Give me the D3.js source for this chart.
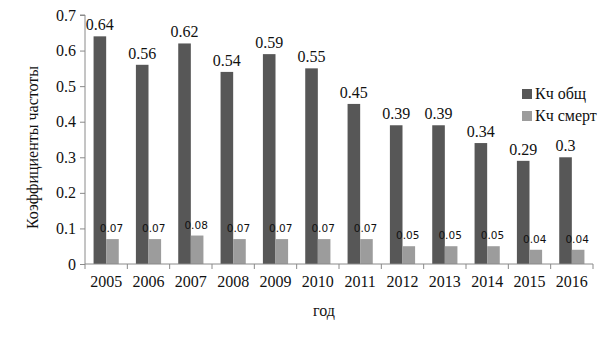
<!DOCTYPE html>
<html>
<head>
<meta charset="utf-8">
<script src="https://cdn.jsdelivr.net/npm/d3@7/dist/d3.min.js"></script>
<style>
  html, body { margin: 0; padding: 0; background: #fff; }
  svg { display: block; }
  .serif { font-family: "Liberation Serif"; }
  .sans { font-family: "DejaVu Sans"; }
</style>
</head>
<body>
<script>
const years = ["2005","2006","2007","2008","2009","2010","2011","2012","2013","2014","2015","2016"];
const kTotal = [0.64,0.56,0.62,0.54,0.59,0.55,0.45,0.39,0.39,0.34,0.29,0.3];
const kDeath = [0.07,0.07,0.08,0.07,0.07,0.07,0.07,0.05,0.05,0.05,0.04,0.04];
const seriesNames = ["Кч общ", "Кч смерт"];
const yTicks = [0,0.1,0.2,0.3,0.4,0.5,0.6,0.7];

const W = 605, H = 340;
const mLeft = 85, mRight = 593, mTop = 15, mBottom = 264;
const dark = "#575757", light = "#9c9c9c", axisCol = "#8a8a8a";

const svg = d3.select("body").append("svg").attr("width", W).attr("height", H);

const x = d3.scaleBand().domain(years).range([mLeft, mRight]).paddingInner(0).paddingOuter(0);
const sub = d3.scaleBand().domain([0,1]).range([0, x.bandwidth()]).paddingInner(0).paddingOuter(0.68);
const y = d3.scaleLinear().domain([0, 0.7]).range([mBottom, mTop]);

// bars
const g = svg.append("g");
years.forEach((yr, i) => {
  const vals = [kTotal[i], kDeath[i]];
  vals.forEach((v, j) => {
    g.append("rect")
      .attr("x", x(yr) + sub(j))
      .attr("y", y(v))
      .attr("width", sub.bandwidth())
      .attr("height", y(0) - y(v))
      .attr("fill", j === 0 ? dark : light);
  });
  // value labels
  g.append("text").attr("class", "serif")
    .attr("x", x(yr) + sub(0) + sub.bandwidth() / 2)
    .attr("y", y(kTotal[i]) - 6)
    .attr("text-anchor", "middle")
    .attr("font-size", 16).attr("fill", "#111")
    .text(String(kTotal[i]));
  g.append("text").attr("class", "sans")
    .attr("x", x(yr) + sub(1) + sub.bandwidth() / 2 - 1)
    .attr("y", y(kDeath[i]) - 7)
    .attr("text-anchor", "middle")
    .attr("font-size", 10.5).attr("fill", "#111")
    .text(kDeath[i].toFixed(2));
});

// y axis
const yAxis = d3.axisLeft(y).tickValues(yTicks).tickSize(5).tickPadding(4)
  .tickFormat(d => d === 0 ? "0" : d3.format(".1f")(d));
const ya = svg.append("g").attr("transform", `translate(${mLeft},0)`).call(yAxis)
  .attr("font-family", null).attr("font-size", null);
ya.select(".domain").attr("stroke", axisCol).attr("d", `M-5,${mTop}H0V${mBottom}`);
ya.selectAll(".tick line").attr("stroke", axisCol);
ya.selectAll(".tick text").attr("class", "serif").attr("font-size", 16).attr("fill", "#111");

// x axis
const xa = svg.append("g").attr("transform", `translate(0,${mBottom})`);
xa.append("line").attr("x1", mLeft).attr("x2", mRight).attr("y1", 0).attr("y2", 0).attr("stroke", axisCol);
const bounds = years.map(d => x(d)).concat([mRight]);
xa.selectAll("line.tk").data(bounds).enter().append("line")
  .attr("class", "tk").attr("x1", d => d).attr("x2", d => d).attr("y1", 0).attr("y2", 5)
  .attr("stroke", axisCol);
xa.selectAll("text").data(years).enter().append("text").attr("class", "serif")
  .attr("x", d => x(d) + x.bandwidth() / 2)
  .attr("y", 23)
  .attr("text-anchor", "middle")
  .attr("font-size", 16).attr("fill", "#111")
  .text(d => d);

// axis titles
svg.append("text").attr("class", "serif")
  .attr("transform", `translate(38,${(mTop + mBottom) / 2 + 8}) rotate(-90)`)
  .attr("text-anchor", "middle")
  .attr("font-size", 16).attr("fill", "#111")
  .text("Коэффициенты частоты");
svg.append("text").attr("class", "serif")
  .attr("x", 324).attr("y", 316)
  .attr("text-anchor", "middle")
  .attr("font-size", 16).attr("fill", "#111")
  .text("год");

// legend
const lg = svg.append("g").attr("transform", "translate(522,89)");
seriesNames.forEach((n, i) => {
  lg.append("rect").attr("x", 0).attr("y", i * 22).attr("width", 10).attr("height", 10)
    .attr("fill", i === 0 ? dark : light);
  lg.append("text").attr("class", "serif").attr("x", 13).attr("y", i * 22 + 10)
    .attr("font-size", 16).attr("fill", "#111")
    .text(n);
});
</script>
</body>
</html>
